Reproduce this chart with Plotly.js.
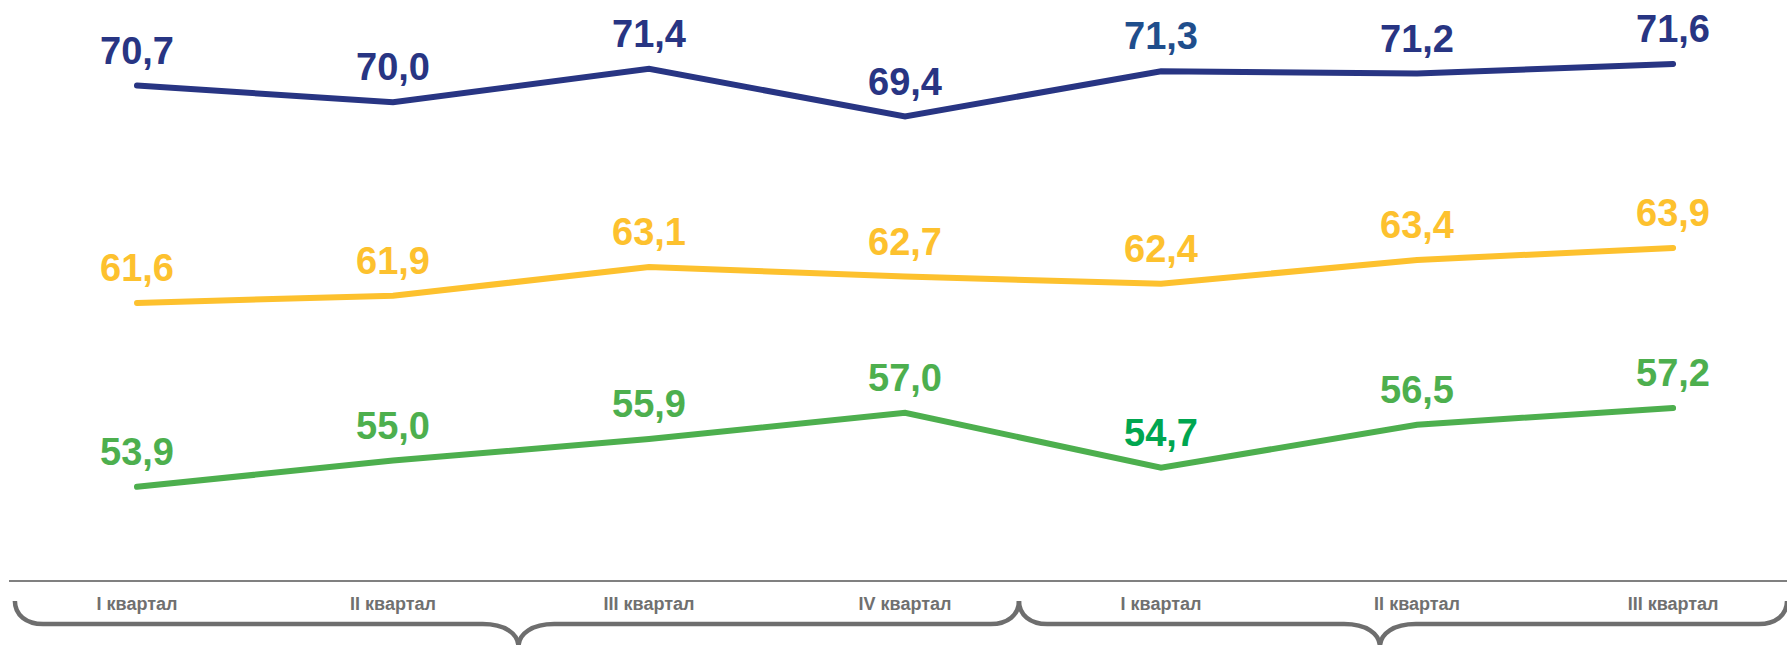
<!DOCTYPE html>
<html>
<head>
<meta charset="utf-8">
<script src="https://cdn.plot.ly/plotly-3.0.1.min.js"></script>
<style>
  html, body { margin: 0; padding: 0; background: #ffffff; }
  #chart { width: 1787px; height: 645px; }
</style>
</head>
<body>
<div id="chart"></div>
<script>
// ---- data ----
const quarterLabels = ['I квартал', 'II квартал', 'III квартал', 'IV квартал', 'I квартал', 'II квартал', 'III квартал'];
const quarterIndex = [0, 1, 2, 3, 4, 5, 6];
const seriesBlue = [70.7, 70.0, 71.4, 69.4, 71.3, 71.2, 71.6];
const seriesYellow = [61.6, 61.9, 63.1, 62.7, 62.4, 63.4, 63.9];
const seriesGreen = [53.9, 55.0, 55.9, 57.0, 54.7, 56.5, 57.2];

// ---- styles ----
const colBlue = '#283583';
const colYellow = '#FDC12E';
const colGreen = '#4DAF4E';
const labelColBlue = ['#283583', '#283583', '#283583', '#283583', '#1F4E8C', '#283583', '#283583'];
const labelColYellow = ['#FDC12E', '#FDC12E', '#FDC12E', '#FDC12E', '#FDC12E', '#FDC12E', '#FDC12E'];
const labelColGreen = ['#4DAF4E', '#4DAF4E', '#4DAF4E', '#4DAF4E', '#00A650', '#4DAF4E', '#4DAF4E'];

const fmt = v => v.toFixed(1).replace('.', ',');

function lineTrace(y, color) {
  return {
    x: quarterIndex, y: y, type: 'scatter', mode: 'lines',
    line: { color: color, width: 6 }, hoverinfo: 'skip', showlegend: false
  };
}

const traces = [
  lineTrace(seriesGreen, colGreen),
  lineTrace(seriesYellow, colYellow),
  lineTrace(seriesBlue, colBlue)
];

const annotations = [];
function addLabels(y, colors) {
  y.forEach((v, i) => {
    annotations.push({
      x: quarterIndex[i], y: v, xref: 'x', yref: 'y',
      text: fmt(v), showarrow: false, xanchor: 'center', yanchor: 'bottom', yshift: 12,
      font: { family: 'Liberation Sans, Arial, sans-serif', size: 38, weight: 'bold', color: colors[i] }
    });
  });
}
addLabels(seriesBlue, labelColBlue);
addLabels(seriesYellow, labelColYellow);
addLabels(seriesGreen, labelColGreen);

// ---- year braces below the axis (x in data units, y in paper units) ----
const braceGroups = [
  { start: -0.477, tip: 1.49, end: 3.445 },
  { start: 3.445, tip: 4.855, end: 6.445 }
];
const plotH = 580;
const py = p => (plotH - p) / plotH;
const yTop = py(601), yMid = py(624), yTip = py(647);
const hookW = 0.11, tipW = 0.14;

function bracePath(g) {
  const s = g.start, t = g.tip, e = g.end;
  const f = (x, y) => x.toFixed(4) + ',' + y.toFixed(5);
  return 'M' + f(s, yTop) +
    ' C' + f(s, yTop + 0.6 * (yMid - yTop)) + ' ' + f(s + hookW * 0.4, yMid) + ' ' + f(s + hookW, yMid) +
    ' L' + f(t - tipW, yMid) +
    ' C' + f(t - tipW * 0.4, yMid) + ' ' + f(t, yMid + 0.4 * (yTip - yMid)) + ' ' + f(t, yTip) +
    ' C' + f(t, yMid + 0.4 * (yTip - yMid)) + ' ' + f(t + tipW * 0.4, yMid) + ' ' + f(t + tipW, yMid) +
    ' L' + f(e - hookW, yMid) +
    ' C' + f(e - hookW * 0.4, yMid) + ' ' + f(e, yTop + 0.6 * (yMid - yTop)) + ' ' + f(e, yTop);
}

const shapes = braceGroups.map(g => ({
  type: 'path', xref: 'x', yref: 'paper', path: bracePath(g),
  line: { color: '#6E6E6E', width: 4.5 }, fillcolor: 'rgba(0,0,0,0)', layer: 'above'
}));

const layout = {
  width: 1787, height: 645,
  margin: { l: 9, r: 0, t: 0, b: 65, pad: 0 },
  paper_bgcolor: '#ffffff', plot_bgcolor: '#ffffff',
  showlegend: false,
  font: { family: 'Liberation Sans, Arial, sans-serif' },
  xaxis: {
    type: 'linear', range: [-0.5, 6.445], fixedrange: true,
    tickmode: 'array', tickvals: quarterIndex, ticktext: quarterLabels,
    ticks: '', showgrid: false, zeroline: false,
    showline: true, linecolor: '#808080', linewidth: 1.5,
    tickfont: { family: 'Liberation Sans, Arial, sans-serif', size: 18, weight: 'bold', color: '#707070' },
    ticklabelstandoff: 7
  },
  yaxis: {
    range: [50, 74.28], visible: false, fixedrange: true,
    showgrid: false, zeroline: false
  },
  annotations: annotations,
  shapes: shapes
};

Plotly.newPlot('chart', traces, layout, { displayModeBar: false, staticPlot: true }).then(() => {
  document.querySelectorAll('.scatterlayer path.js-line').forEach(p => {
    p.style.strokeLinecap = 'round';
  });
});
</script>
</body>
</html>
